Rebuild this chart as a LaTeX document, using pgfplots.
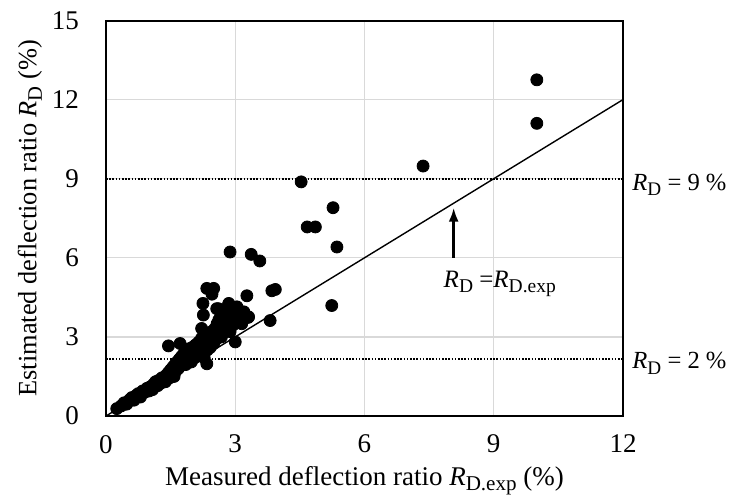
\documentclass[border=0pt]{standalone}
\usepackage{fontspec}
\setmainfont{Liberation Serif}
\usepackage{pgfplots}
\usepackage{pgfplotstable}
\usetikzlibrary{arrows.meta}
\pgfplotsset{compat=1.18}
\newcommand\sub[1]{\raisebox{-0.45ex}{\scalebox{0.78}{#1}}}
\newcommand\RD{\textit{R}\sub{D}}

\pgfplotstableread{
x y
0.25 0.28
0.35 0.38
0.42 0.50
0.48 0.45
0.55 0.62
0.60 0.70
0.65 0.60
0.70 0.78
0.75 0.85
0.80 0.72
0.85 0.95
0.90 0.90
0.95 1.05
1.00 0.95
1.02 1.10
1.08 1.00
1.10 1.20
1.15 1.30
1.20 1.15
1.22 1.35
1.28 1.25
1.30 1.45
1.35 1.40
1.38 1.30
1.40 1.55
1.45 1.65
1.48 1.45
1.50 1.75
1.52 1.60
1.55 1.85
1.58 1.50
1.60 1.95
1.62 1.70
1.65 2.05
1.68 1.80
1.70 2.15
1.72 1.90
1.75 2.25
1.78 2.00
1.80 2.35
1.82 2.10
1.85 1.95
1.88 2.40
1.90 2.20
1.92 2.55
1.95 2.30
1.98 2.05
2.00 2.60
2.02 2.40
2.05 2.20
2.08 2.70
2.10 2.50
2.12 2.30
2.15 2.80
2.18 2.60
2.20 2.40
2.22 2.95
2.25 2.70
2.28 2.20
2.30 3.05
2.32 2.80
2.35 2.50
2.38 3.10
2.40 2.90
2.42 2.60
2.45 3.20
2.48 3.00
2.50 2.75
2.52 3.30
2.55 2.90
2.58 3.50
2.60 3.10
2.62 3.65
2.65 3.30
2.68 3.00
2.70 3.80
2.72 3.50
2.75 3.20
2.78 3.70
2.80 3.40
2.82 3.90
2.85 3.60
2.88 3.20
2.90 4.00
2.92 3.75
2.95 3.45
2.98 3.90
3.00 2.81
3.05 3.60
3.10 3.85
3.15 3.50
3.20 3.95
3.25 3.75
1.45 2.66
1.72 2.75
2.34 1.98
2.19 2.48
2.22 3.32
2.25 4.27
2.26 3.83
2.34 4.84
2.46 4.62
2.50 4.84
2.57 4.07
2.61 4.07
2.84 4.20
2.85 4.27
2.88 6.22
3.04 4.14
3.04 4.07
3.27 4.56
3.30 3.74
3.31 3.76
3.37 6.13
3.57 5.88
3.81 3.62
3.85 4.75
3.93 4.80
5.24 4.19
4.53 8.88
5.27 7.90
4.67 7.17
4.86 7.17
5.36 6.41
7.36 9.48
10.00 11.10
10.00 12.75
}\pts

\begin{document}
\begin{tikzpicture}
\useasboundingbox (-53pt,-39.5pt) rectangle (311.5pt,208pt);
\begin{axis}[
  at={(0,0)}, anchor=south west,
  scale only axis, width=258.5pt, height=197.75pt,
  xmin=0, xmax=12, ymin=0, ymax=15,
  xtick={0,3,6,9,12}, ytick={0,3,6,9,12,15},
  grid=major, major grid style={draw=black!15, line width=0.6pt},
  tick style={draw=none},
  axis line style={line width=1pt},
  clip=false,
  /pgf/number format/assume math mode=true,
  ticklabel style={font=\fontsize{13.5}{15}\selectfont},
  xticklabel style={yshift=-6pt},
  yticklabel style={xshift=-10pt},
  every axis x label/.style={at={(axis description cs:0.5,-0.164)}, anchor=center, font=\fontsize{13.5}{15}\selectfont},
  every axis y label/.style={at={(axis description cs:-0.147,0.5)}, rotate=90, anchor=center, font=\fontsize{13.2}{15}\selectfont},
  xlabel={Measured deflection ratio \textit{R}\sub{D.exp} (\%)},
  ylabel={Estimated deflection ratio \RD{} (\%)},
]
\addplot[black, line width=0.7pt] coordinates {(0,0) (12,12)};
\addplot[black, line width=0.9pt, dash pattern=on 0.8pt off 0.8pt] coordinates {(0,9) (12,9)};
\addplot[black, line width=0.9pt, dash pattern=on 0.8pt off 0.8pt] coordinates {(0,2.15) (12,2.15)};
\addplot[only marks, mark=*, mark size=3pt, black, fill=black] table[x=x,y=y] {\pts};
\draw[-{Latex[length=7pt,width=5pt]}, line width=1.2pt] (axis cs:8.07,6.0) -- (axis cs:8.07,7.9);
\node[font=\fontsize{12.5}{14}\selectfont] at (axis cs:9.14,5.0) {\RD{} =\textit{R}\sub{D.exp}};
\node[anchor=base west, font=\fontsize{12.3}{14}\selectfont, xshift=1.2pt, yshift=-5.8pt] at (axis cs:12,9) {\RD{} = 9 \%};
\node[anchor=base west, font=\fontsize{12.3}{14}\selectfont, xshift=1.2pt, yshift=-4.8pt] at (axis cs:12,2.15) {\RD{} = 2 \%};
\end{axis}
\end{tikzpicture}
\end{document}
